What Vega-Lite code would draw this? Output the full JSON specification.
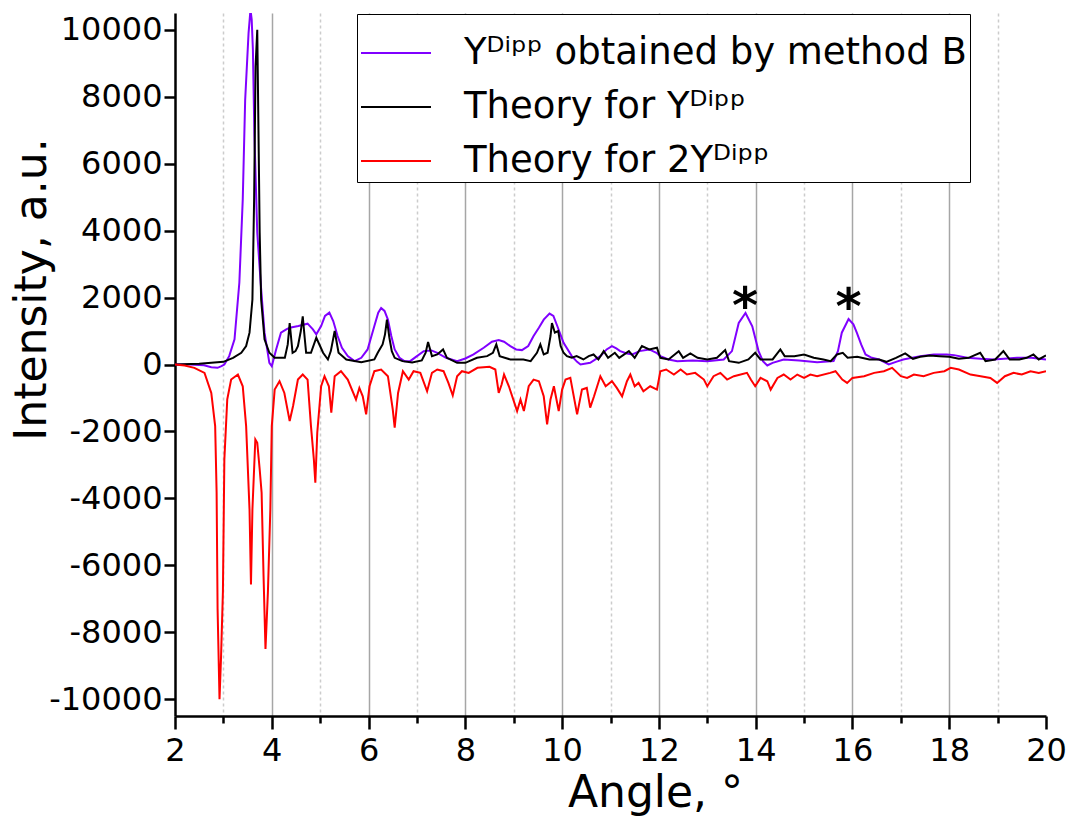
{
  "$schema": "https://vega.github.io/schema/vega-lite/v6.json",
  "width": 871,
  "height": 703,
  "autosize": {"type": "none"},
  "padding": {"left": 175, "top": 13, "right": 28, "bottom": 102},
  "background": "white",
  "config": {
    "font": "DejaVu Sans",
    "view": {"stroke": null},
    "axis": {"domainColor": "black", "domainWidth": 2.5, "tickColor": "black", "tickWidth": 2.5, "labelColor": "black", "titleColor": "black", "labelFont": "DejaVu Sans", "titleFont": "DejaVu Sans", "titleFontWeight": "normal", "labelFontSize": 32, "titleFontSize": 44}
  },
  "datasets": {
    "stars": [
      {"angle": 13.78, "intensity": 1700, "mark": "*"},
      {"angle": 15.92, "intensity": 1650, "mark": "*"}
    ]
  },
  "data": {"values": [
    {"series": "Yᴰⁱᵖᵖ obtained by method B", "angle": 2.0, "intensity": 0},
    {"series": "Yᴰⁱᵖᵖ obtained by method B", "angle": 2.3, "intensity": 0},
    {"series": "Yᴰⁱᵖᵖ obtained by method B", "angle": 2.6, "intensity": -20},
    {"series": "Yᴰⁱᵖᵖ obtained by method B", "angle": 2.75, "intensity": -80},
    {"series": "Yᴰⁱᵖᵖ obtained by method B", "angle": 2.88, "intensity": -100},
    {"series": "Yᴰⁱᵖᵖ obtained by method B", "angle": 2.96, "intensity": -50},
    {"series": "Yᴰⁱᵖᵖ obtained by method B", "angle": 3.02, "intensity": 0},
    {"series": "Yᴰⁱᵖᵖ obtained by method B", "angle": 3.12, "intensity": 250},
    {"series": "Yᴰⁱᵖᵖ obtained by method B", "angle": 3.23, "intensity": 750},
    {"series": "Yᴰⁱᵖᵖ obtained by method B", "angle": 3.33, "intensity": 2450},
    {"series": "Yᴰⁱᵖᵖ obtained by method B", "angle": 3.4, "intensity": 4925},
    {"series": "Yᴰⁱᵖᵖ obtained by method B", "angle": 3.45, "intensity": 7900},
    {"series": "Yᴰⁱᵖᵖ obtained by method B", "angle": 3.52, "intensity": 9900},
    {"series": "Yᴰⁱᵖᵖ obtained by method B", "angle": 3.56, "intensity": 10600},
    {"series": "Yᴰⁱᵖᵖ obtained by method B", "angle": 3.585, "intensity": 10300},
    {"series": "Yᴰⁱᵖᵖ obtained by method B", "angle": 3.61, "intensity": 9400},
    {"series": "Yᴰⁱᵖᵖ obtained by method B", "angle": 3.64, "intensity": 6900},
    {"series": "Yᴰⁱᵖᵖ obtained by method B", "angle": 3.7, "intensity": 3940},
    {"series": "Yᴰⁱᵖᵖ obtained by method B", "angle": 3.77, "intensity": 2450},
    {"series": "Yᴰⁱᵖᵖ obtained by method B", "angle": 3.85, "intensity": 950},
    {"series": "Yᴰⁱᵖᵖ obtained by method B", "angle": 3.95, "intensity": 50},
    {"series": "Yᴰⁱᵖᵖ obtained by method B", "angle": 4.0, "intensity": -50},
    {"series": "Yᴰⁱᵖᵖ obtained by method B", "angle": 4.09, "intensity": 450},
    {"series": "Yᴰⁱᵖᵖ obtained by method B", "angle": 4.19, "intensity": 950},
    {"series": "Yᴰⁱᵖᵖ obtained by method B", "angle": 4.3, "intensity": 1050},
    {"series": "Yᴰⁱᵖᵖ obtained by method B", "angle": 4.37, "intensity": 1100},
    {"series": "Yᴰⁱᵖᵖ obtained by method B", "angle": 4.55, "intensity": 1150},
    {"series": "Yᴰⁱᵖᵖ obtained by method B", "angle": 4.74, "intensity": 1220},
    {"series": "Yᴰⁱᵖᵖ obtained by method B", "angle": 4.85, "intensity": 1050},
    {"series": "Yᴰⁱᵖᵖ obtained by method B", "angle": 4.92, "intensity": 900},
    {"series": "Yᴰⁱᵖᵖ obtained by method B", "angle": 5.02, "intensity": 1150},
    {"series": "Yᴰⁱᵖᵖ obtained by method B", "angle": 5.1, "intensity": 1450},
    {"series": "Yᴰⁱᵖᵖ obtained by method B", "angle": 5.19, "intensity": 1550},
    {"series": "Yᴰⁱᵖᵖ obtained by method B", "angle": 5.27, "intensity": 1300},
    {"series": "Yᴰⁱᵖᵖ obtained by method B", "angle": 5.36, "intensity": 850},
    {"series": "Yᴰⁱᵖᵖ obtained by method B", "angle": 5.45, "intensity": 500},
    {"series": "Yᴰⁱᵖᵖ obtained by method B", "angle": 5.57, "intensity": 250},
    {"series": "Yᴰⁱᵖᵖ obtained by method B", "angle": 5.71, "intensity": 100},
    {"series": "Yᴰⁱᵖᵖ obtained by method B", "angle": 5.85, "intensity": 200},
    {"series": "Yᴰⁱᵖᵖ obtained by method B", "angle": 5.98, "intensity": 450},
    {"series": "Yᴰⁱᵖᵖ obtained by method B", "angle": 6.12, "intensity": 1150},
    {"series": "Yᴰⁱᵖᵖ obtained by method B", "angle": 6.2, "intensity": 1550},
    {"series": "Yᴰⁱᵖᵖ obtained by method B", "angle": 6.26, "intensity": 1690},
    {"series": "Yᴰⁱᵖᵖ obtained by method B", "angle": 6.33, "intensity": 1600},
    {"series": "Yᴰⁱᵖᵖ obtained by method B", "angle": 6.4, "intensity": 1340},
    {"series": "Yᴰⁱᵖᵖ obtained by method B", "angle": 6.47, "intensity": 850},
    {"series": "Yᴰⁱᵖᵖ obtained by method B", "angle": 6.54, "intensity": 450},
    {"series": "Yᴰⁱᵖᵖ obtained by method B", "angle": 6.64, "intensity": 200},
    {"series": "Yᴰⁱᵖᵖ obtained by method B", "angle": 6.74, "intensity": 100},
    {"series": "Yᴰⁱᵖᵖ obtained by method B", "angle": 6.86, "intensity": 100},
    {"series": "Yᴰⁱᵖᵖ obtained by method B", "angle": 7.0, "intensity": 250},
    {"series": "Yᴰⁱᵖᵖ obtained by method B", "angle": 7.14, "intensity": 400},
    {"series": "Yᴰⁱᵖᵖ obtained by method B", "angle": 7.3, "intensity": 420},
    {"series": "Yᴰⁱᵖᵖ obtained by method B", "angle": 7.42, "intensity": 350},
    {"series": "Yᴰⁱᵖᵖ obtained by method B", "angle": 7.6, "intensity": 200},
    {"series": "Yᴰⁱᵖᵖ obtained by method B", "angle": 7.83, "intensity": 100},
    {"series": "Yᴰⁱᵖᵖ obtained by method B", "angle": 8.0, "intensity": 180},
    {"series": "Yᴰⁱᵖᵖ obtained by method B", "angle": 8.17, "intensity": 300},
    {"series": "Yᴰⁱᵖᵖ obtained by method B", "angle": 8.38, "intensity": 500},
    {"series": "Yᴰⁱᵖᵖ obtained by method B", "angle": 8.55, "intensity": 680},
    {"series": "Yᴰⁱᵖᵖ obtained by method B", "angle": 8.69, "intensity": 730},
    {"series": "Yᴰⁱᵖᵖ obtained by method B", "angle": 8.8, "intensity": 680},
    {"series": "Yᴰⁱᵖᵖ obtained by method B", "angle": 8.93, "intensity": 550},
    {"series": "Yᴰⁱᵖᵖ obtained by method B", "angle": 9.05, "intensity": 450},
    {"series": "Yᴰⁱᵖᵖ obtained by method B", "angle": 9.17, "intensity": 430},
    {"series": "Yᴰⁱᵖᵖ obtained by method B", "angle": 9.3, "intensity": 550},
    {"series": "Yᴰⁱᵖᵖ obtained by method B", "angle": 9.41, "intensity": 850},
    {"series": "Yᴰⁱᵖᵖ obtained by method B", "angle": 9.52, "intensity": 1100},
    {"series": "Yᴰⁱᵖᵖ obtained by method B", "angle": 9.62, "intensity": 1340},
    {"series": "Yᴰⁱᵖᵖ obtained by method B", "angle": 9.74, "intensity": 1520},
    {"series": "Yᴰⁱᵖᵖ obtained by method B", "angle": 9.82, "intensity": 1450},
    {"series": "Yᴰⁱᵖᵖ obtained by method B", "angle": 9.9, "intensity": 1150},
    {"series": "Yᴰⁱᵖᵖ obtained by method B", "angle": 10.03, "intensity": 650},
    {"series": "Yᴰⁱᵖᵖ obtained by method B", "angle": 10.2, "intensity": 250},
    {"series": "Yᴰⁱᵖᵖ obtained by method B", "angle": 10.31, "intensity": 80},
    {"series": "Yᴰⁱᵖᵖ obtained by method B", "angle": 10.38, "intensity": 0},
    {"series": "Yᴰⁱᵖᵖ obtained by method B", "angle": 10.58, "intensity": 50},
    {"series": "Yᴰⁱᵖᵖ obtained by method B", "angle": 10.79, "intensity": 250},
    {"series": "Yᴰⁱᵖᵖ obtained by method B", "angle": 10.92, "intensity": 450},
    {"series": "Yᴰⁱᵖᵖ obtained by method B", "angle": 11.03, "intensity": 550},
    {"series": "Yᴰⁱᵖᵖ obtained by method B", "angle": 11.12, "intensity": 480},
    {"series": "Yᴰⁱᵖᵖ obtained by method B", "angle": 11.2, "intensity": 400},
    {"series": "Yᴰⁱᵖᵖ obtained by method B", "angle": 11.34, "intensity": 330},
    {"series": "Yᴰⁱᵖᵖ obtained by method B", "angle": 11.45, "intensity": 300},
    {"series": "Yᴰⁱᵖᵖ obtained by method B", "angle": 11.6, "intensity": 400},
    {"series": "Yᴰⁱᵖᵖ obtained by method B", "angle": 11.8, "intensity": 450},
    {"series": "Yᴰⁱᵖᵖ obtained by method B", "angle": 11.95, "intensity": 350},
    {"series": "Yᴰⁱᵖᵖ obtained by method B", "angle": 12.03, "intensity": 250},
    {"series": "Yᴰⁱᵖᵖ obtained by method B", "angle": 12.2, "intensity": 150},
    {"series": "Yᴰⁱᵖᵖ obtained by method B", "angle": 12.38, "intensity": 100},
    {"series": "Yᴰⁱᵖᵖ obtained by method B", "angle": 12.7, "intensity": 120},
    {"series": "Yᴰⁱᵖᵖ obtained by method B", "angle": 13.0, "intensity": 100},
    {"series": "Yᴰⁱᵖᵖ obtained by method B", "angle": 13.34, "intensity": 150},
    {"series": "Yᴰⁱᵖᵖ obtained by method B", "angle": 13.51, "intensity": 400},
    {"series": "Yᴰⁱᵖᵖ obtained by method B", "angle": 13.65, "intensity": 1240},
    {"series": "Yᴰⁱᵖᵖ obtained by method B", "angle": 13.79, "intensity": 1540},
    {"series": "Yᴰⁱᵖᵖ obtained by method B", "angle": 13.93, "intensity": 1140},
    {"series": "Yᴰⁱᵖᵖ obtained by method B", "angle": 14.06, "intensity": 400},
    {"series": "Yᴰⁱᵖᵖ obtained by method B", "angle": 14.15, "intensity": 100},
    {"series": "Yᴰⁱᵖᵖ obtained by method B", "angle": 14.24, "intensity": -30},
    {"series": "Yᴰⁱᵖᵖ obtained by method B", "angle": 14.35, "intensity": 50},
    {"series": "Yᴰⁱᵖᵖ obtained by method B", "angle": 14.58, "intensity": 150},
    {"series": "Yᴰⁱᵖᵖ obtained by method B", "angle": 14.9, "intensity": 120},
    {"series": "Yᴰⁱᵖᵖ obtained by method B", "angle": 15.27, "intensity": 70},
    {"series": "Yᴰⁱᵖᵖ obtained by method B", "angle": 15.61, "intensity": 100},
    {"series": "Yᴰⁱᵖᵖ obtained by method B", "angle": 15.7, "intensity": 400},
    {"series": "Yᴰⁱᵖᵖ obtained by method B", "angle": 15.78, "intensity": 950},
    {"series": "Yᴰⁱᵖᵖ obtained by method B", "angle": 15.92, "intensity": 1360},
    {"series": "Yᴰⁱᵖᵖ obtained by method B", "angle": 16.02, "intensity": 1200},
    {"series": "Yᴰⁱᵖᵖ obtained by method B", "angle": 16.09, "intensity": 950},
    {"series": "Yᴰⁱᵖᵖ obtained by method B", "angle": 16.18, "intensity": 600},
    {"series": "Yᴰⁱᵖᵖ obtained by method B", "angle": 16.27, "intensity": 300},
    {"series": "Yᴰⁱᵖᵖ obtained by method B", "angle": 16.4, "intensity": 200},
    {"series": "Yᴰⁱᵖᵖ obtained by method B", "angle": 16.55, "intensity": 150},
    {"series": "Yᴰⁱᵖᵖ obtained by method B", "angle": 16.75, "intensity": 0},
    {"series": "Yᴰⁱᵖᵖ obtained by method B", "angle": 16.9, "intensity": 80},
    {"series": "Yᴰⁱᵖᵖ obtained by method B", "angle": 17.05, "intensity": 150},
    {"series": "Yᴰⁱᵖᵖ obtained by method B", "angle": 17.4, "intensity": 250},
    {"series": "Yᴰⁱᵖᵖ obtained by method B", "angle": 17.68, "intensity": 300},
    {"series": "Yᴰⁱᵖᵖ obtained by method B", "angle": 17.95, "intensity": 300},
    {"series": "Yᴰⁱᵖᵖ obtained by method B", "angle": 18.1, "intensity": 280},
    {"series": "Yᴰⁱᵖᵖ obtained by method B", "angle": 18.37, "intensity": 200},
    {"series": "Yᴰⁱᵖᵖ obtained by method B", "angle": 18.65, "intensity": 170},
    {"series": "Yᴰⁱᵖᵖ obtained by method B", "angle": 18.92, "intensity": 150},
    {"series": "Yᴰⁱᵖᵖ obtained by method B", "angle": 19.2, "intensity": 180},
    {"series": "Yᴰⁱᵖᵖ obtained by method B", "angle": 19.4, "intensity": 200},
    {"series": "Yᴰⁱᵖᵖ obtained by method B", "angle": 19.7, "intensity": 200},
    {"series": "Yᴰⁱᵖᵖ obtained by method B", "angle": 20.0, "intensity": 150},

    {"series": "Theory for Yᴰⁱᵖᵖ", "angle": 2.0, "intensity": 0},
    {"series": "Theory for Yᴰⁱᵖᵖ", "angle": 2.5, "intensity": 20},
    {"series": "Theory for Yᴰⁱᵖᵖ", "angle": 3.0, "intensity": 80},
    {"series": "Theory for Yᴰⁱᵖᵖ", "angle": 3.2, "intensity": 200},
    {"series": "Theory for Yᴰⁱᵖᵖ", "angle": 3.37, "intensity": 350},
    {"series": "Theory for Yᴰⁱᵖᵖ", "angle": 3.47, "intensity": 550},
    {"series": "Theory for Yᴰⁱᵖᵖ", "angle": 3.54, "intensity": 950},
    {"series": "Theory for Yᴰⁱᵖᵖ", "angle": 3.6, "intensity": 1940},
    {"series": "Theory for Yᴰⁱᵖᵖ", "angle": 3.635, "intensity": 4930},
    {"series": "Theory for Yᴰⁱᵖᵖ", "angle": 3.665, "intensity": 8900},
    {"series": "Theory for Yᴰⁱᵖᵖ", "angle": 3.7, "intensity": 10000},
    {"series": "Theory for Yᴰⁱᵖᵖ", "angle": 3.725, "intensity": 7000},
    {"series": "Theory for Yᴰⁱᵖᵖ", "angle": 3.75, "intensity": 3940},
    {"series": "Theory for Yᴰⁱᵖᵖ", "angle": 3.78, "intensity": 1940},
    {"series": "Theory for Yᴰⁱᵖᵖ", "angle": 3.85, "intensity": 750},
    {"series": "Theory for Yᴰⁱᵖᵖ", "angle": 3.95, "intensity": 350},
    {"series": "Theory for Yᴰⁱᵖᵖ", "angle": 4.06, "intensity": 200},
    {"series": "Theory for Yᴰⁱᵖᵖ", "angle": 4.27, "intensity": 200},
    {"series": "Theory for Yᴰⁱᵖᵖ", "angle": 4.33, "intensity": 600},
    {"series": "Theory for Yᴰⁱᵖᵖ", "angle": 4.37, "intensity": 1240},
    {"series": "Theory for Yᴰⁱᵖᵖ", "angle": 4.43, "intensity": 350},
    {"series": "Theory for Yᴰⁱᵖᵖ", "angle": 4.49, "intensity": 400},
    {"series": "Theory for Yᴰⁱᵖᵖ", "angle": 4.54, "intensity": 550},
    {"series": "Theory for Yᴰⁱᵖᵖ", "angle": 4.6, "intensity": 1000},
    {"series": "Theory for Yᴰⁱᵖᵖ", "angle": 4.64, "intensity": 1440},
    {"series": "Theory for Yᴰⁱᵖᵖ", "angle": 4.68, "intensity": 800},
    {"series": "Theory for Yᴰⁱᵖᵖ", "angle": 4.71, "intensity": 350},
    {"series": "Theory for Yᴰⁱᵖᵖ", "angle": 4.81, "intensity": 350},
    {"series": "Theory for Yᴰⁱᵖᵖ", "angle": 4.92, "intensity": 800},
    {"series": "Theory for Yᴰⁱᵖᵖ", "angle": 5.06, "intensity": 350},
    {"series": "Theory for Yᴰⁱᵖᵖ", "angle": 5.16, "intensity": 150},
    {"series": "Theory for Yᴰⁱᵖᵖ", "angle": 5.22, "intensity": 400},
    {"series": "Theory for Yᴰⁱᵖᵖ", "angle": 5.3, "intensity": 1000},
    {"series": "Theory for Yᴰⁱᵖᵖ", "angle": 5.38, "intensity": 350},
    {"series": "Theory for Yᴰⁱᵖᵖ", "angle": 5.54, "intensity": 150},
    {"series": "Theory for Yᴰⁱᵖᵖ", "angle": 5.85, "intensity": 70},
    {"series": "Theory for Yᴰⁱᵖᵖ", "angle": 6.12, "intensity": 150},
    {"series": "Theory for Yᴰⁱᵖᵖ", "angle": 6.19, "intensity": 350},
    {"series": "Theory for Yᴰⁱᵖᵖ", "angle": 6.29, "intensity": 600},
    {"series": "Theory for Yᴰⁱᵖᵖ", "angle": 6.34, "intensity": 900},
    {"series": "Theory for Yᴰⁱᵖᵖ", "angle": 6.38, "intensity": 1340},
    {"series": "Theory for Yᴰⁱᵖᵖ", "angle": 6.43, "intensity": 800},
    {"series": "Theory for Yᴰⁱᵖᵖ", "angle": 6.48, "intensity": 400},
    {"series": "Theory for Yᴰⁱᵖᵖ", "angle": 6.54, "intensity": 200},
    {"series": "Theory for Yᴰⁱᵖᵖ", "angle": 6.7, "intensity": 100},
    {"series": "Theory for Yᴰⁱᵖᵖ", "angle": 6.9, "intensity": 60},
    {"series": "Theory for Yᴰⁱᵖᵖ", "angle": 7.1, "intensity": 120},
    {"series": "Theory for Yᴰⁱᵖᵖ", "angle": 7.18, "intensity": 350},
    {"series": "Theory for Yᴰⁱᵖᵖ", "angle": 7.23, "intensity": 670},
    {"series": "Theory for Yᴰⁱᵖᵖ", "angle": 7.31, "intensity": 250},
    {"series": "Theory for Yᴰⁱᵖᵖ", "angle": 7.42, "intensity": 300},
    {"series": "Theory for Yᴰⁱᵖᵖ", "angle": 7.54, "intensity": 450},
    {"series": "Theory for Yᴰⁱᵖᵖ", "angle": 7.62, "intensity": 200},
    {"series": "Theory for Yᴰⁱᵖᵖ", "angle": 7.83, "intensity": 50},
    {"series": "Theory for Yᴰⁱᵖᵖ", "angle": 8.0, "intensity": 50},
    {"series": "Theory for Yᴰⁱᵖᵖ", "angle": 8.24, "intensity": 200},
    {"series": "Theory for Yᴰⁱᵖᵖ", "angle": 8.45, "intensity": 250},
    {"series": "Theory for Yᴰⁱᵖᵖ", "angle": 8.57, "intensity": 350},
    {"series": "Theory for Yᴰⁱᵖᵖ", "angle": 8.64, "intensity": 600},
    {"series": "Theory for Yᴰⁱᵖᵖ", "angle": 8.71, "intensity": 250},
    {"series": "Theory for Yᴰⁱᵖᵖ", "angle": 8.93, "intensity": 150},
    {"series": "Theory for Yᴰⁱᵖᵖ", "angle": 9.2, "intensity": 150},
    {"series": "Theory for Yᴰⁱᵖᵖ", "angle": 9.35, "intensity": 100},
    {"series": "Theory for Yᴰⁱᵖᵖ", "angle": 9.48, "intensity": 350},
    {"series": "Theory for Yᴰⁱᵖᵖ", "angle": 9.55, "intensity": 600},
    {"series": "Theory for Yᴰⁱᵖᵖ", "angle": 9.62, "intensity": 300},
    {"series": "Theory for Yᴰⁱᵖᵖ", "angle": 9.7, "intensity": 350},
    {"series": "Theory for Yᴰⁱᵖᵖ", "angle": 9.76, "intensity": 850},
    {"series": "Theory for Yᴰⁱᵖᵖ", "angle": 9.79, "intensity": 1240},
    {"series": "Theory for Yᴰⁱᵖᵖ", "angle": 9.85, "intensity": 950},
    {"series": "Theory for Yᴰⁱᵖᵖ", "angle": 9.92, "intensity": 1000},
    {"series": "Theory for Yᴰⁱᵖᵖ", "angle": 9.97, "intensity": 550},
    {"series": "Theory for Yᴰⁱᵖᵖ", "angle": 10.03, "intensity": 350},
    {"series": "Theory for Yᴰⁱᵖᵖ", "angle": 10.1, "intensity": 250},
    {"series": "Theory for Yᴰⁱᵖᵖ", "angle": 10.2, "intensity": 200},
    {"series": "Theory for Yᴰⁱᵖᵖ", "angle": 10.3, "intensity": 250},
    {"series": "Theory for Yᴰⁱᵖᵖ", "angle": 10.44, "intensity": 150},
    {"series": "Theory for Yᴰⁱᵖᵖ", "angle": 10.55, "intensity": 250},
    {"series": "Theory for Yᴰⁱᵖᵖ", "angle": 10.65, "intensity": 300},
    {"series": "Theory for Yᴰⁱᵖᵖ", "angle": 10.75, "intensity": 150},
    {"series": "Theory for Yᴰⁱᵖᵖ", "angle": 10.86, "intensity": 400},
    {"series": "Theory for Yᴰⁱᵖᵖ", "angle": 10.95, "intensity": 200},
    {"series": "Theory for Yᴰⁱᵖᵖ", "angle": 11.09, "intensity": 350},
    {"series": "Theory for Yᴰⁱᵖᵖ", "angle": 11.18, "intensity": 200},
    {"series": "Theory for Yᴰⁱᵖᵖ", "angle": 11.38, "intensity": 400},
    {"series": "Theory for Yᴰⁱᵖᵖ", "angle": 11.5, "intensity": 200},
    {"series": "Theory for Yᴰⁱᵖᵖ", "angle": 11.65, "intensity": 550},
    {"series": "Theory for Yᴰⁱᵖᵖ", "angle": 11.8, "intensity": 450},
    {"series": "Theory for Yᴰⁱᵖᵖ", "angle": 11.96, "intensity": 500},
    {"series": "Theory for Yᴰⁱᵖᵖ", "angle": 12.03, "intensity": 200},
    {"series": "Theory for Yᴰⁱᵖᵖ", "angle": 12.2, "intensity": 150},
    {"series": "Theory for Yᴰⁱᵖᵖ", "angle": 12.41, "intensity": 400},
    {"series": "Theory for Yᴰⁱᵖᵖ", "angle": 12.5, "intensity": 200},
    {"series": "Theory for Yᴰⁱᵖᵖ", "angle": 12.65, "intensity": 330},
    {"series": "Theory for Yᴰⁱᵖᵖ", "angle": 12.8, "intensity": 200},
    {"series": "Theory for Yᴰⁱᵖᵖ", "angle": 13.0, "intensity": 150},
    {"series": "Theory for Yᴰⁱᵖᵖ", "angle": 13.2, "intensity": 200},
    {"series": "Theory for Yᴰⁱᵖᵖ", "angle": 13.37, "intensity": 430},
    {"series": "Theory for Yᴰⁱᵖᵖ", "angle": 13.45, "intensity": 100},
    {"series": "Theory for Yᴰⁱᵖᵖ", "angle": 13.65, "intensity": 50},
    {"series": "Theory for Yᴰⁱᵖᵖ", "angle": 13.85, "intensity": 150},
    {"series": "Theory for Yᴰⁱᵖᵖ", "angle": 13.99, "intensity": 350},
    {"series": "Theory for Yᴰⁱᵖᵖ", "angle": 14.1, "intensity": 150},
    {"series": "Theory for Yᴰⁱᵖᵖ", "angle": 14.35, "intensity": 150},
    {"series": "Theory for Yᴰⁱᵖᵖ", "angle": 14.51, "intensity": 450},
    {"series": "Theory for Yᴰⁱᵖᵖ", "angle": 14.6, "intensity": 250},
    {"series": "Theory for Yᴰⁱᵖᵖ", "angle": 14.8, "intensity": 250},
    {"series": "Theory for Yᴰⁱᵖᵖ", "angle": 15.0, "intensity": 300},
    {"series": "Theory for Yᴰⁱᵖᵖ", "angle": 15.2, "intensity": 200},
    {"series": "Theory for Yᴰⁱᵖᵖ", "angle": 15.4, "intensity": 150},
    {"series": "Theory for Yᴰⁱᵖᵖ", "angle": 15.55, "intensity": 100},
    {"series": "Theory for Yᴰⁱᵖᵖ", "angle": 15.68, "intensity": 300},
    {"series": "Theory for Yᴰⁱᵖᵖ", "angle": 15.8, "intensity": 350},
    {"series": "Theory for Yᴰⁱᵖᵖ", "angle": 15.9, "intensity": 200},
    {"series": "Theory for Yᴰⁱᵖᵖ", "angle": 16.1, "intensity": 230},
    {"series": "Theory for Yᴰⁱᵖᵖ", "angle": 16.35, "intensity": 150},
    {"series": "Theory for Yᴰⁱᵖᵖ", "angle": 16.55, "intensity": 150},
    {"series": "Theory for Yᴰⁱᵖᵖ", "angle": 16.7, "intensity": 80},
    {"series": "Theory for Yᴰⁱᵖᵖ", "angle": 16.9, "intensity": 200},
    {"series": "Theory for Yᴰⁱᵖᵖ", "angle": 17.09, "intensity": 330},
    {"series": "Theory for Yᴰⁱᵖᵖ", "angle": 17.25, "intensity": 170},
    {"series": "Theory for Yᴰⁱᵖᵖ", "angle": 17.4, "intensity": 230},
    {"series": "Theory for Yᴰⁱᵖᵖ", "angle": 17.6, "intensity": 270},
    {"series": "Theory for Yᴰⁱᵖᵖ", "angle": 17.8, "intensity": 250},
    {"series": "Theory for Yᴰⁱᵖᵖ", "angle": 18.0, "intensity": 230},
    {"series": "Theory for Yᴰⁱᵖᵖ", "angle": 18.2, "intensity": 170},
    {"series": "Theory for Yᴰⁱᵖᵖ", "angle": 18.4, "intensity": 200},
    {"series": "Theory for Yᴰⁱᵖᵖ", "angle": 18.64, "intensity": 350},
    {"series": "Theory for Yᴰⁱᵖᵖ", "angle": 18.75, "intensity": 100},
    {"series": "Theory for Yᴰⁱᵖᵖ", "angle": 18.95, "intensity": 150},
    {"series": "Theory for Yᴰⁱᵖᵖ", "angle": 19.12, "intensity": 400},
    {"series": "Theory for Yᴰⁱᵖᵖ", "angle": 19.25, "intensity": 150},
    {"series": "Theory for Yᴰⁱᵖᵖ", "angle": 19.45, "intensity": 150},
    {"series": "Theory for Yᴰⁱᵖᵖ", "angle": 19.6, "intensity": 200},
    {"series": "Theory for Yᴰⁱᵖᵖ", "angle": 19.74, "intensity": 300},
    {"series": "Theory for Yᴰⁱᵖᵖ", "angle": 19.85, "intensity": 150},
    {"series": "Theory for Yᴰⁱᵖᵖ", "angle": 20.0, "intensity": 270},

    {"series": "Theory for 2Yᴰⁱᵖᵖ", "angle": 2.0, "intensity": 0},
    {"series": "Theory for 2Yᴰⁱᵖᵖ", "angle": 2.2, "intensity": -30},
    {"series": "Theory for 2Yᴰⁱᵖᵖ", "angle": 2.4, "intensity": -100},
    {"series": "Theory for 2Yᴰⁱᵖᵖ", "angle": 2.61, "intensity": -250},
    {"series": "Theory for 2Yᴰⁱᵖᵖ", "angle": 2.75, "intensity": -850},
    {"series": "Theory for 2Yᴰⁱᵖᵖ", "angle": 2.83, "intensity": -1840},
    {"series": "Theory for 2Yᴰⁱᵖᵖ", "angle": 2.86, "intensity": -3830},
    {"series": "Theory for 2Yᴰⁱᵖᵖ", "angle": 2.88, "intensity": -7300},
    {"series": "Theory for 2Yᴰⁱᵖᵖ", "angle": 2.92, "intensity": -10000},
    {"series": "Theory for 2Yᴰⁱᵖᵖ", "angle": 2.95, "intensity": -8800},
    {"series": "Theory for 2Yᴰⁱᵖᵖ", "angle": 2.99, "intensity": -6800},
    {"series": "Theory for 2Yᴰⁱᵖᵖ", "angle": 3.02, "intensity": -2840},
    {"series": "Theory for 2Yᴰⁱᵖᵖ", "angle": 3.08, "intensity": -1040},
    {"series": "Theory for 2Yᴰⁱᵖᵖ", "angle": 3.16, "intensity": -450},
    {"series": "Theory for 2Yᴰⁱᵖᵖ", "angle": 3.3, "intensity": -300},
    {"series": "Theory for 2Yᴰⁱᵖᵖ", "angle": 3.4, "intensity": -650},
    {"series": "Theory for 2Yᴰⁱᵖᵖ", "angle": 3.47, "intensity": -1840},
    {"series": "Theory for 2Yᴰⁱᵖᵖ", "angle": 3.54, "intensity": -4330},
    {"series": "Theory for 2Yᴰⁱᵖᵖ", "angle": 3.57, "intensity": -6570},
    {"series": "Theory for 2Yᴰⁱᵖᵖ", "angle": 3.6, "intensity": -4330},
    {"series": "Theory for 2Yᴰⁱᵖᵖ", "angle": 3.66, "intensity": -2240},
    {"series": "Theory for 2Yᴰⁱᵖᵖ", "angle": 3.7, "intensity": -2340},
    {"series": "Theory for 2Yᴰⁱᵖᵖ", "angle": 3.75, "intensity": -3130},
    {"series": "Theory for 2Yᴰⁱᵖᵖ", "angle": 3.79, "intensity": -3830},
    {"series": "Theory for 2Yᴰⁱᵖᵖ", "angle": 3.83, "intensity": -6320},
    {"series": "Theory for 2Yᴰⁱᵖᵖ", "angle": 3.87, "intensity": -8500},
    {"series": "Theory for 2Yᴰⁱᵖᵖ", "angle": 3.92, "intensity": -6800},
    {"series": "Theory for 2Yᴰⁱᵖᵖ", "angle": 3.97, "intensity": -4330},
    {"series": "Theory for 2Yᴰⁱᵖᵖ", "angle": 4.0, "intensity": -1840},
    {"series": "Theory for 2Yᴰⁱᵖᵖ", "angle": 4.06, "intensity": -750},
    {"series": "Theory for 2Yᴰⁱᵖᵖ", "angle": 4.16, "intensity": -500},
    {"series": "Theory for 2Yᴰⁱᵖᵖ", "angle": 4.26, "intensity": -850},
    {"series": "Theory for 2Yᴰⁱᵖᵖ", "angle": 4.37, "intensity": -1690},
    {"series": "Theory for 2Yᴰⁱᵖᵖ", "angle": 4.44, "intensity": -1240},
    {"series": "Theory for 2Yᴰⁱᵖᵖ", "angle": 4.54, "intensity": -450},
    {"series": "Theory for 2Yᴰⁱᵖᵖ", "angle": 4.64, "intensity": -300},
    {"series": "Theory for 2Yᴰⁱᵖᵖ", "angle": 4.74, "intensity": -450},
    {"series": "Theory for 2Yᴰⁱᵖᵖ", "angle": 4.81, "intensity": -1840},
    {"series": "Theory for 2Yᴰⁱᵖᵖ", "angle": 4.87, "intensity": -2840},
    {"series": "Theory for 2Yᴰⁱᵖᵖ", "angle": 4.9, "intensity": -3530},
    {"series": "Theory for 2Yᴰⁱᵖᵖ", "angle": 4.94, "intensity": -2040},
    {"series": "Theory for 2Yᴰⁱᵖᵖ", "angle": 5.02, "intensity": -650},
    {"series": "Theory for 2Yᴰⁱᵖᵖ", "angle": 5.09, "intensity": -350},
    {"series": "Theory for 2Yᴰⁱᵖᵖ", "angle": 5.18, "intensity": -650},
    {"series": "Theory for 2Yᴰⁱᵖᵖ", "angle": 5.23, "intensity": -1440},
    {"series": "Theory for 2Yᴰⁱᵖᵖ", "angle": 5.3, "intensity": -350},
    {"series": "Theory for 2Yᴰⁱᵖᵖ", "angle": 5.43, "intensity": -200},
    {"series": "Theory for 2Yᴰⁱᵖᵖ", "angle": 5.57, "intensity": -450},
    {"series": "Theory for 2Yᴰⁱᵖᵖ", "angle": 5.74, "intensity": -1045},
    {"series": "Theory for 2Yᴰⁱᵖᵖ", "angle": 5.81, "intensity": -700},
    {"series": "Theory for 2Yᴰⁱᵖᵖ", "angle": 5.88, "intensity": -950},
    {"series": "Theory for 2Yᴰⁱᵖᵖ", "angle": 5.95, "intensity": -1490},
    {"series": "Theory for 2Yᴰⁱᵖᵖ", "angle": 6.02, "intensity": -650},
    {"series": "Theory for 2Yᴰⁱᵖᵖ", "angle": 6.12, "intensity": -200},
    {"series": "Theory for 2Yᴰⁱᵖᵖ", "angle": 6.26, "intensity": -150},
    {"series": "Theory for 2Yᴰⁱᵖᵖ", "angle": 6.4, "intensity": -350},
    {"series": "Theory for 2Yᴰⁱᵖᵖ", "angle": 6.5, "intensity": -1340},
    {"series": "Theory for 2Yᴰⁱᵖᵖ", "angle": 6.54, "intensity": -1890},
    {"series": "Theory for 2Yᴰⁱᵖᵖ", "angle": 6.61, "intensity": -850},
    {"series": "Theory for 2Yᴰⁱᵖᵖ", "angle": 6.71, "intensity": -200},
    {"series": "Theory for 2Yᴰⁱᵖᵖ", "angle": 6.83, "intensity": -450},
    {"series": "Theory for 2Yᴰⁱᵖᵖ", "angle": 6.93, "intensity": -200},
    {"series": "Theory for 2Yᴰⁱᵖᵖ", "angle": 7.07, "intensity": -250},
    {"series": "Theory for 2Yᴰⁱᵖᵖ", "angle": 7.21, "intensity": -800},
    {"series": "Theory for 2Yᴰⁱᵖᵖ", "angle": 7.31, "intensity": -250},
    {"series": "Theory for 2Yᴰⁱᵖᵖ", "angle": 7.42, "intensity": -150},
    {"series": "Theory for 2Yᴰⁱᵖᵖ", "angle": 7.55, "intensity": -200},
    {"series": "Theory for 2Yᴰⁱᵖᵖ", "angle": 7.65, "intensity": -550},
    {"series": "Theory for 2Yᴰⁱᵖᵖ", "angle": 7.74, "intensity": -925},
    {"series": "Theory for 2Yᴰⁱᵖᵖ", "angle": 7.83, "intensity": -350},
    {"series": "Theory for 2Yᴰⁱᵖᵖ", "angle": 7.93, "intensity": -200},
    {"series": "Theory for 2Yᴰⁱᵖᵖ", "angle": 8.07, "intensity": -250},
    {"series": "Theory for 2Yᴰⁱᵖᵖ", "angle": 8.25, "intensity": -100},
    {"series": "Theory for 2Yᴰⁱᵖᵖ", "angle": 8.5, "intensity": -70},
    {"series": "Theory for 2Yᴰⁱᵖᵖ", "angle": 8.62, "intensity": -150},
    {"series": "Theory for 2Yᴰⁱᵖᵖ", "angle": 8.69, "intensity": -850},
    {"series": "Theory for 2Yᴰⁱᵖᵖ", "angle": 8.75, "intensity": -600},
    {"series": "Theory for 2Yᴰⁱᵖᵖ", "angle": 8.8, "intensity": -300},
    {"series": "Theory for 2Yᴰⁱᵖᵖ", "angle": 8.9, "intensity": -650},
    {"series": "Theory for 2Yᴰⁱᵖᵖ", "angle": 9.07, "intensity": -1390},
    {"series": "Theory for 2Yᴰⁱᵖᵖ", "angle": 9.14, "intensity": -1045},
    {"series": "Theory for 2Yᴰⁱᵖᵖ", "angle": 9.21, "intensity": -1390},
    {"series": "Theory for 2Yᴰⁱᵖᵖ", "angle": 9.31, "intensity": -650},
    {"series": "Theory for 2Yᴰⁱᵖᵖ", "angle": 9.41, "intensity": -450},
    {"series": "Theory for 2Yᴰⁱᵖᵖ", "angle": 9.52, "intensity": -500},
    {"series": "Theory for 2Yᴰⁱᵖᵖ", "angle": 9.62, "intensity": -950},
    {"series": "Theory for 2Yᴰⁱᵖᵖ", "angle": 9.69, "intensity": -1790},
    {"series": "Theory for 2Yᴰⁱᵖᵖ", "angle": 9.76, "intensity": -1045},
    {"series": "Theory for 2Yᴰⁱᵖᵖ", "angle": 9.83, "intensity": -650},
    {"series": "Theory for 2Yᴰⁱᵖᵖ", "angle": 9.93, "intensity": -1390},
    {"series": "Theory for 2Yᴰⁱᵖᵖ", "angle": 10.0, "intensity": -750},
    {"series": "Theory for 2Yᴰⁱᵖᵖ", "angle": 10.07, "intensity": -450},
    {"series": "Theory for 2Yᴰⁱᵖᵖ", "angle": 10.17, "intensity": -400},
    {"series": "Theory for 2Yᴰⁱᵖᵖ", "angle": 10.31, "intensity": -1490},
    {"series": "Theory for 2Yᴰⁱᵖᵖ", "angle": 10.41, "intensity": -750},
    {"series": "Theory for 2Yᴰⁱᵖᵖ", "angle": 10.51, "intensity": -700},
    {"series": "Theory for 2Yᴰⁱᵖᵖ", "angle": 10.58, "intensity": -1290},
    {"series": "Theory for 2Yᴰⁱᵖᵖ", "angle": 10.66, "intensity": -950},
    {"series": "Theory for 2Yᴰⁱᵖᵖ", "angle": 10.79, "intensity": -350},
    {"series": "Theory for 2Yᴰⁱᵖᵖ", "angle": 10.9, "intensity": -650},
    {"series": "Theory for 2Yᴰⁱᵖᵖ", "angle": 11.03, "intensity": -500},
    {"series": "Theory for 2Yᴰⁱᵖᵖ", "angle": 11.13, "intensity": -700},
    {"series": "Theory for 2Yᴰⁱᵖᵖ", "angle": 11.24, "intensity": -950},
    {"series": "Theory for 2Yᴰⁱᵖᵖ", "angle": 11.34, "intensity": -500},
    {"series": "Theory for 2Yᴰⁱᵖᵖ", "angle": 11.41, "intensity": -300},
    {"series": "Theory for 2Yᴰⁱᵖᵖ", "angle": 11.5, "intensity": -650},
    {"series": "Theory for 2Yᴰⁱᵖᵖ", "angle": 11.58, "intensity": -550},
    {"series": "Theory for 2Yᴰⁱᵖᵖ", "angle": 11.68, "intensity": -800},
    {"series": "Theory for 2Yᴰⁱᵖᵖ", "angle": 11.82, "intensity": -650},
    {"series": "Theory for 2Yᴰⁱᵖᵖ", "angle": 11.96, "intensity": -750},
    {"series": "Theory for 2Yᴰⁱᵖᵖ", "angle": 12.03, "intensity": -200},
    {"series": "Theory for 2Yᴰⁱᵖᵖ", "angle": 12.15, "intensity": -150},
    {"series": "Theory for 2Yᴰⁱᵖᵖ", "angle": 12.31, "intensity": -300},
    {"series": "Theory for 2Yᴰⁱᵖᵖ", "angle": 12.45, "intensity": -150},
    {"series": "Theory for 2Yᴰⁱᵖᵖ", "angle": 12.58, "intensity": -300},
    {"series": "Theory for 2Yᴰⁱᵖᵖ", "angle": 12.75, "intensity": -250},
    {"series": "Theory for 2Yᴰⁱᵖᵖ", "angle": 12.93, "intensity": -450},
    {"series": "Theory for 2Yᴰⁱᵖᵖ", "angle": 13.0, "intensity": -650},
    {"series": "Theory for 2Yᴰⁱᵖᵖ", "angle": 13.13, "intensity": -350},
    {"series": "Theory for 2Yᴰⁱᵖᵖ", "angle": 13.27, "intensity": -250},
    {"series": "Theory for 2Yᴰⁱᵖᵖ", "angle": 13.41, "intensity": -450},
    {"series": "Theory for 2Yᴰⁱᵖᵖ", "angle": 13.55, "intensity": -350},
    {"series": "Theory for 2Yᴰⁱᵖᵖ", "angle": 13.69, "intensity": -300},
    {"series": "Theory for 2Yᴰⁱᵖᵖ", "angle": 13.82, "intensity": -250},
    {"series": "Theory for 2Yᴰⁱᵖᵖ", "angle": 13.9, "intensity": -450},
    {"series": "Theory for 2Yᴰⁱᵖᵖ", "angle": 13.99, "intensity": -650},
    {"series": "Theory for 2Yᴰⁱᵖᵖ", "angle": 14.1, "intensity": -400},
    {"series": "Theory for 2Yᴰⁱᵖᵖ", "angle": 14.24, "intensity": -500},
    {"series": "Theory for 2Yᴰⁱᵖᵖ", "angle": 14.31, "intensity": -750},
    {"series": "Theory for 2Yᴰⁱᵖᵖ", "angle": 14.45, "intensity": -400},
    {"series": "Theory for 2Yᴰⁱᵖᵖ", "angle": 14.58, "intensity": -300},
    {"series": "Theory for 2Yᴰⁱᵖᵖ", "angle": 14.72, "intensity": -450},
    {"series": "Theory for 2Yᴰⁱᵖᵖ", "angle": 14.86, "intensity": -300},
    {"series": "Theory for 2Yᴰⁱᵖᵖ", "angle": 15.0, "intensity": -400},
    {"series": "Theory for 2Yᴰⁱᵖᵖ", "angle": 15.13, "intensity": -300},
    {"series": "Theory for 2Yᴰⁱᵖᵖ", "angle": 15.27, "intensity": -350},
    {"series": "Theory for 2Yᴰⁱᵖᵖ", "angle": 15.54, "intensity": -250},
    {"series": "Theory for 2Yᴰⁱᵖᵖ", "angle": 15.65, "intensity": -200},
    {"series": "Theory for 2Yᴰⁱᵖᵖ", "angle": 15.79, "intensity": -450},
    {"series": "Theory for 2Yᴰⁱᵖᵖ", "angle": 15.89, "intensity": -550},
    {"series": "Theory for 2Yᴰⁱᵖᵖ", "angle": 16.0, "intensity": -400},
    {"series": "Theory for 2Yᴰⁱᵖᵖ", "angle": 16.24, "intensity": -350},
    {"series": "Theory for 2Yᴰⁱᵖᵖ", "angle": 16.45, "intensity": -250},
    {"series": "Theory for 2Yᴰⁱᵖᵖ", "angle": 16.65, "intensity": -200},
    {"series": "Theory for 2Yᴰⁱᵖᵖ", "angle": 16.82, "intensity": -100},
    {"series": "Theory for 2Yᴰⁱᵖᵖ", "angle": 17.0, "intensity": -350},
    {"series": "Theory for 2Yᴰⁱᵖᵖ", "angle": 17.13, "intensity": -400},
    {"series": "Theory for 2Yᴰⁱᵖᵖ", "angle": 17.27, "intensity": -300},
    {"series": "Theory for 2Yᴰⁱᵖᵖ", "angle": 17.47, "intensity": -350},
    {"series": "Theory for 2Yᴰⁱᵖᵖ", "angle": 17.68, "intensity": -250},
    {"series": "Theory for 2Yᴰⁱᵖᵖ", "angle": 17.9, "intensity": -200},
    {"series": "Theory for 2Yᴰⁱᵖᵖ", "angle": 18.03, "intensity": -100},
    {"series": "Theory for 2Yᴰⁱᵖᵖ", "angle": 18.2, "intensity": -150},
    {"series": "Theory for 2Yᴰⁱᵖᵖ", "angle": 18.44, "intensity": -300},
    {"series": "Theory for 2Yᴰⁱᵖᵖ", "angle": 18.65, "intensity": -350},
    {"series": "Theory for 2Yᴰⁱᵖᵖ", "angle": 18.85, "intensity": -400},
    {"series": "Theory for 2Yᴰⁱᵖᵖ", "angle": 18.99, "intensity": -550},
    {"series": "Theory for 2Yᴰⁱᵖᵖ", "angle": 19.15, "intensity": -350},
    {"series": "Theory for 2Yᴰⁱᵖᵖ", "angle": 19.33, "intensity": -250},
    {"series": "Theory for 2Yᴰⁱᵖᵖ", "angle": 19.5, "intensity": -300},
    {"series": "Theory for 2Yᴰⁱᵖᵖ", "angle": 19.68, "intensity": -200},
    {"series": "Theory for 2Yᴰⁱᵖᵖ", "angle": 19.85, "intensity": -250},
    {"series": "Theory for 2Yᴰⁱᵖᵖ", "angle": 20.0, "intensity": -200}
  ]},
  "layer": [
    {
      "mark": {"type": "line", "strokeWidth": 2, "clip": true, "interpolate": "linear"},
      "encoding": {
        "x": {
          "field": "angle", "type": "quantitative",
          "scale": {"domain": [2, 20], "nice": false, "zero": false},
          "axis": {
            "title": "Angle, °",
            "values": [2, 3, 4, 5, 6, 7, 8, 9, 10, 11, 12, 13, 14, 15, 16, 17, 18, 19, 20],
            "labelExpr": "datum.value % 2 == 0 ? '' + datum.value : ''",
            "labelOverlap": false,
            "labelFlush": false,
            "labelPadding": 6,
            "tickSize": {"condition": {"test": "datum.value % 2 == 0", "value": 13}, "value": 7},
            "grid": true,
            "gridColor": {"condition": {"test": "datum.value % 2 == 0", "value": "#a6a6a6"}, "value": "#cccccc"},
            "gridDash": {"condition": {"test": "datum.value % 2 == 0", "value": []}, "value": [3, 3]},
            "gridWidth": 1.5,
            "gridOpacity": {"condition": {"test": "datum.value == 2 || datum.value == 20", "value": 0}, "value": 1},
            "titleX": 480,
            "titleY": 90,
            "titleBaseline": "alphabetic",
            "titleAlign": "center"
          }
        },
        "y": {
          "field": "intensity", "type": "quantitative",
          "scale": {"domain": [-10500, 10500], "nice": false, "zero": false},
          "axis": {
            "title": "Intensity, a.u.",
            "values": [-10000, -9000, -8000, -7000, -6000, -5000, -4000, -3000, -2000, -1000, 0, 1000, 2000, 3000, 4000, 5000, 6000, 7000, 8000, 9000, 10000],
            "labelExpr": "datum.value % 2000 == 0 ? '' + datum.value : ''",
            "labelOverlap": false,
            "labelFlush": false,
            "labelPadding": 2,
            "tickSize": {"condition": {"test": "datum.value % 2000 == 0", "value": 11}, "value": 7},
            "grid": false,
            "titleX": -165,
            "titleY": 276,
            "titleBaseline": "top",
            "titleAlign": "center",
            "titleAngle": -90
          }
        },
        "color": {
          "field": "series", "type": "nominal",
          "scale": {"domain": ["Yᴰⁱᵖᵖ obtained by method B", "Theory for Yᴰⁱᵖᵖ", "Theory for 2Yᴰⁱᵖᵖ"], "range": ["#8000ff", "#000000", "#ff0000"]},
          "sort": null,
          "legend": {
            "title": null,
            "orient": "none",
            "legendX": 182,
            "legendY": 1,
            "symbolType": "stroke",
            "symbolSize": 4900,
            "symbolStrokeWidth": 2,
            "labelFontSize": 37,
            "labelFont": "DejaVu Sans",
            "labelColor": "black",
            "labelLimit": 0,
            "labelOffset": 32,
            "rowPadding": -9,
            "padding": 3,
            "strokeColor": "black",
            "fillColor": "white"
          }
        }
      }
    },
    {
      "data": {"name": "stars"},
      "mark": {"type": "text", "fontSize": 50, "fontWeight": "bold", "font": "DejaVu Sans", "color": "black", "baseline": "middle", "align": "center"},
      "encoding": {
        "x": {"field": "angle", "type": "quantitative"},
        "y": {"field": "intensity", "type": "quantitative"},
        "text": {"field": "mark"}
      }
    }
  ]
}
